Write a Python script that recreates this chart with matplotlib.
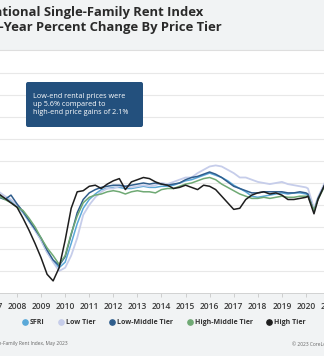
import matplotlib
matplotlib.use("Agg")
import matplotlib.pyplot as plt
from matplotlib.lines import Line2D
from matplotlib.patches import FancyBboxPatch

plt.rcParams["font.family"] = ["Open Sans", "DejaVu Sans"]

# Year-over-year % change, quarterly (plus the spring 2020 dip)
MONTHS = [
    "2007-01", "2007-04", "2007-07", "2007-10", "2008-01", "2008-04", "2008-07", "2008-10",
    "2009-01", "2009-04", "2009-07", "2009-10", "2010-01", "2010-04", "2010-07", "2010-10",
    "2011-01", "2011-04", "2011-07", "2011-10", "2012-01", "2012-04", "2012-07", "2012-10",
    "2013-01", "2013-04", "2013-07", "2013-10", "2014-01", "2014-04", "2014-07", "2014-10",
    "2015-01", "2015-04", "2015-07", "2015-10", "2016-01", "2016-04", "2016-07", "2016-10",
    "2017-01", "2017-04", "2017-07", "2017-10", "2018-01", "2018-04", "2018-07", "2018-10",
    "2019-01", "2019-04", "2019-07", "2019-10", "2020-01", "2020-02", "2020-05", "2020-07",
    "2020-10", "2021-01",
]

SFRI = [3.2, 2.9, 2.6, 2.4, 1.9, 1.3, 0.5, -0.3, -1.2, -2.3, -3.1, -3.7, -3.2, -1.5, 0.3, 1.7,
        2.5, 3.0, 3.4, 3.5, 3.6, 3.6, 3.5, 3.5, 3.6, 3.7, 3.6, 3.6, 3.7, 3.7, 3.8, 4.0,
        4.2, 4.3, 4.5, 4.7, 4.9, 4.7, 4.5, 4.2, 3.8, 3.5, 3.2, 2.8, 2.7, 2.8, 2.9, 3.0,
        3.1, 3.0, 3.1, 3.1, 3.0, 2.9, 1.5, 2.6, 3.8, 4.9]
LOW_TIER = [3.4, 3.2, 2.8, 2.5, 2.0, 1.4, 0.6, -0.3, -1.2, -2.3, -3.2, -4.0, -3.7, -2.6, -1.0, 1.1,
            2.0, 2.7, 3.2, 3.5, 3.5, 3.7, 3.7, 3.6, 3.7, 3.8, 3.7, 3.8, 4.0, 3.9, 4.1, 4.3,
            4.5, 4.5, 4.9, 5.2, 5.5, 5.6, 5.5, 5.2, 4.9, 4.5, 4.5, 4.3, 4.1, 4.0, 3.9, 4.0,
            4.1, 3.9, 3.8, 3.7, 3.6, 3.5, 1.7, 2.7, 3.9, 5.0]
LOW_MID_TIER = [3.0, 2.7, 2.5, 2.9, 2.1, 1.4, 0.6, -0.2, -1.0, -2.1, -3.0, -3.5, -2.7, -0.7, 1.3, 2.5,
                3.1, 3.4, 3.6, 3.7, 3.8, 3.8, 3.7, 3.8, 3.9, 4.0, 3.9, 4.0, 3.9, 3.8, 3.9, 4.0,
                4.3, 4.5, 4.6, 4.8, 5.0, 4.8, 4.5, 4.1, 3.7, 3.5, 3.3, 3.1, 3.1, 3.2, 3.2, 3.2,
                3.2, 3.1, 3.1, 3.2, 3.1, 3.0, 1.4, 2.6, 3.7, 4.8]
HIGH_MID_TIER = [3.1, 2.8, 2.5, 2.2, 1.8, 1.5, 0.8, 0.0, -1.0, -1.9, -2.6, -3.4, -2.6, -0.6, 1.0, 2.2,
                 2.7, 2.9, 3.0, 3.2, 3.3, 3.2, 3.0, 3.2, 3.3, 3.2, 3.2, 3.1, 3.4, 3.5, 3.5, 3.7,
                 3.9, 4.0, 4.2, 4.4, 4.5, 4.3, 3.9, 3.6, 3.3, 3.0, 2.8, 2.6, 2.6, 2.7, 2.6, 2.7,
                 2.8, 2.7, 2.7, 2.8, 2.8, 2.8, 1.5, 2.5, 3.6, 4.6]
HIGH_TIER = [3.2, 3.0, 2.6, 2.2, 1.8, 0.8, -0.3, -1.5, -2.8, -4.3, -4.9, -3.7, -1.2, 1.7, 3.2, 3.3,
             3.7, 3.8, 3.5, 3.9, 4.2, 4.4, 3.4, 4.1, 4.3, 4.5, 4.4, 4.1, 3.9, 3.8, 3.5, 3.6,
             3.8, 3.6, 3.4, 3.8, 3.7, 3.4, 2.8, 2.2, 1.6, 1.7, 2.5, 2.9, 3.1, 3.2, 3.0, 3.1,
             2.9, 2.5, 2.5, 2.6, 2.7, 2.8, 1.2, 2.5, 3.7, 5.0]

YEARS = list(range(2007, 2022))
SERIES_NAMES = ["SFRI", "Low Tier", "Low-Middle Tier", "High-Middle Tier", "High Tier"]
COLORS = ["#5aa8d8", "#c6cdea", "#2f5d8c", "#6fa974", "#1e1e1e"]

TITLE_1 = "National Single-Family Rent Index"
TITLE_2 = "Year-Over-Year Percent Change By Price Tier"
NOTE = ["Low-end rental prices were", "up 5.6% compared to", "high-end price gains of 2.1%"]
SOURCE = "Source: CoreLogic Single-Family Rent Index, May 2023"
COPYRIGHT = "\u00a9 2023 CoreLogic, Inc. All rights reserved."

W, H = 324, 356          # canvas in px
BG = "#f1f3f4"
BOX = "#23507d"


def fx(px):
    return px / W


def fy(px):
    return 1 - px / H


t = [int(m[:4]) + (int(m[5:]) - 1) / 12 for m in MONTHS]

# the panel is wider than the canvas: Jan 2008 sits at x=17px, 24.08px per year
x_lo, x_hi = 2006.8, 2021.2
left_px = 17 + 24.08 * (x_lo - 2008)
right_px = 17 + 24.08 * (x_hi - 2008)
top_px, bot_px = 50, 293

fig = plt.figure(figsize=(W / 100, H / 100), dpi=100, facecolor=BG)
ax = fig.add_axes([fx(left_px), fy(bot_px), fx(right_px - left_px), (bot_px - top_px) / H])
ax.set_facecolor("white")

widths = [1.1, 1.3, 1.1, 1.1, 1.1]
order = [1, 0, 3, 2, 4]
for i in order:
    series = [SFRI, LOW_TIER, LOW_MID_TIER, HIGH_MID_TIER, HIGH_TIER][i]
    ax.plot(t, series, color=COLORS[i], lw=widths[i], solid_joinstyle="round", zorder=3 + i)

ax.set_xlim(x_lo, x_hi)
ax.set_ylim(-6.0, 16.09)
ax.set_yticks(range(-4, 16, 2))
ax.yaxis.grid(True, color="#e8e8e8", lw=0.8)
ax.tick_params(axis="y", length=0, labelleft=False)
ax.set_xticks(YEARS)
ax.set_xticklabels([str(y) for y in YEARS])
ax.tick_params(axis="x", length=3, width=0.6, color="#c8c8c8", labelsize=6.0,
               labelcolor="#3a3a3a", pad=3.5)
for lbl in ax.get_xticklabels():
    lbl.set_fontweight("semibold")
for s in ["left", "right"]:
    ax.spines[s].set_visible(False)
ax.spines["top"].set_color("#dedede")
ax.spines["bottom"].set_color("#d2d2d2")
ax.spines["bottom"].set_linewidth(0.7)

# header
fig.text(fx(203), fy(16), TITLE_1, ha="right", va="baseline", fontsize=9.4,
         fontweight="bold", color="#2a2a2a")
fig.text(fx(222), fy(31), TITLE_2, ha="right", va="baseline", fontsize=9.4,
         fontweight="bold", color="#2a2a2a")

# callout
fig.patches.append(FancyBboxPatch((fx(26), fy(127)), fx(117), 45 / H,
                                  boxstyle="round,pad=0,rounding_size=0.006",
                                  transform=fig.transFigure, fc=BOX, ec="none", zorder=10))
for k, line in enumerate(NOTE):
    fig.text(fx(33), fy(96 + 8 * k), line, ha="left", va="center", fontsize=5.2,
             color="white", zorder=11)

# legend
handles = [Line2D([], [], ls="none", marker="o", ms=3.8, mfc=c, mec=c) for c in COLORS]
leg = fig.legend(handles, SERIES_NAMES, loc="center", bbox_to_anchor=(fx(164), fy(323)),
                 ncol=5, frameon=False, fontsize=5.0, handlelength=0.8, handletextpad=0.3,
                 columnspacing=2.0)
for txt in leg.get_texts():
    txt.set_fontweight("bold")
    txt.set_color("#333333")

# footer
fig.text(fx(68), fy(344), SOURCE, ha="right", va="center", fontsize=3.5, color="#666666")
fig.text(fx(292), fy(344), COPYRIGHT, ha="left", va="center", fontsize=3.5, color="#666666")

fig.savefig("out.png", dpi=100, facecolor=BG)
